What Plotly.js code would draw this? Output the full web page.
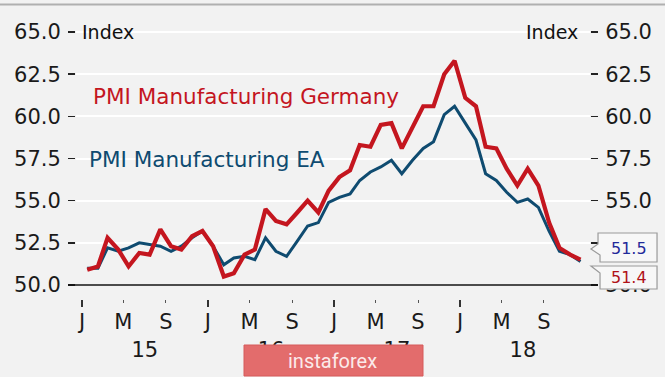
<!DOCTYPE html>
<html><head><meta charset="utf-8">
<script src="https://cdn.plot.ly/plotly-3.0.1.min.js"></script>
<style>html,body{margin:0;padding:0;background:#f2f2f2;}#chart{width:665px;height:377px;}</style>
</head><body><div id="chart"></div>
<script>
const months = [
'2015-01-16','2015-02-16','2015-03-16','2015-04-16','2015-05-16','2015-06-16','2015-07-16','2015-08-16','2015-09-16','2015-10-16','2015-11-16','2015-12-16',
'2016-01-16','2016-02-16','2016-03-16','2016-04-16','2016-05-16','2016-06-16','2016-07-16','2016-08-16','2016-09-16','2016-10-16','2016-11-16','2016-12-16',
'2017-01-16','2017-02-16','2017-03-16','2017-04-16','2017-05-16','2017-06-16','2017-07-16','2017-08-16','2017-09-16','2017-10-16','2017-11-16','2017-12-16',
'2018-01-16','2018-02-16','2018-03-16','2018-04-16','2018-05-16','2018-06-16','2018-07-16','2018-08-16','2018-09-16','2018-10-16','2018-11-16','2018-12-16'];
const pmiGermany = [
50.9,51.1,52.8,52.1,51.1,51.9,51.8,53.3,52.3,52.1,52.9,53.2,
52.3,50.5,50.7,51.8,52.1,54.5,53.8,53.6,54.3,55.0,54.3,55.6,
56.4,56.8,58.3,58.2,59.5,59.6,58.1,59.3,60.6,60.6,62.5,63.3,
61.1,60.6,58.2,58.1,56.9,55.9,56.9,55.9,53.7,52.2,51.8,51.5];
const pmiEA = [
51.0,51.0,52.2,52.0,52.2,52.5,52.4,52.3,52.0,52.3,52.8,53.2,
52.3,51.2,51.6,51.7,51.5,52.8,52.0,51.7,52.6,53.5,53.7,54.9,
55.2,55.4,56.2,56.7,57.0,57.4,56.6,57.4,58.1,58.5,60.1,60.6,
59.6,58.6,56.6,56.2,55.5,54.9,55.1,54.6,53.2,52.0,51.8,51.4];
const tickDates = ['2015-01-01','2015-05-01','2015-09-01','2016-01-01','2016-05-01','2016-09-01',
'2017-01-01','2017-05-01','2017-09-01','2018-01-01','2018-05-01','2018-09-01'];
const tickLabels = ['J','M','S','J','M','S','J','M','S','J','M','S'];
const yearTickDates = ['2015-01-01','2016-01-01','2017-01-01','2018-01-01'];
const yearDates = ['2015-07-02','2016-07-02','2017-07-02','2018-07-02'];
const yearLabels = ['15','16','17','18'];
const yTicks = [50,52.5,55,57.5,60,62.5,65];
const yLabels = ['50.0','52.5','55.0','57.5','60.0','62.5','65.0'];
const yLabelsRight = ['50.0','','55.0','57.5','60.0','62.5','65.0'];
const tagEA = '51.5', tagDE = '51.4';

const RED = '#c4161f', BLUE = '#0f4b70';
const FONT = 'DejaVu Sans';
const L=76, T=27, W=514, H=272;
const px = x => (x-L)/W, py = y => (T+H-y)/H;
const yr = [49.17, 65.3];
const xr = ['2014-12-14 12:00','2019-01-12 14:00'];

const traces = [
 {x: months, y: pmiEA, mode:'lines', line:{color:BLUE, width:3}, hoverinfo:'skip', showlegend:false},
 {x: months, y: pmiGermany, mode:'lines', line:{color:RED, width:4.2}, hoverinfo:'skip', showlegend:false},
 {x: months, y: pmiEA, xaxis:'x2', yaxis:'y2', mode:'lines', opacity:0, line:{width:0}, hoverinfo:'skip', showlegend:false},
 {x: months, y: pmiEA, xaxis:'x3', yaxis:'y', mode:'lines', opacity:0, line:{width:0}, hoverinfo:'skip', showlegend:false}
];

function tagPath(pts){ return 'M' + pts.map(p => px(p[0]).toFixed(4)+','+py(p[1]).toFixed(4)).join(' L') + ' Z'; }

const layout = {
 width:665, height:377,
 margin:{l:L, r:665-L-W, t:T, b:377-T-H},
 paper_bgcolor:'#f2f2f2', plot_bgcolor:'#f2f2f2',
 font:{family:FONT, color:'#1a1a1a'},
 xaxis:{type:'date', range:xr, tickmode:'array', tickvals:tickDates, ticktext:tickLabels,
   ticks:'outside', ticklen:3, tickwidth:1, tickcolor:'#555', showgrid:false, zeroline:false, showline:false,
   tickfont:{size:21, family:FONT, color:'#1a1a1a'}, ticklabelstandoff:1},
 xaxis2:{type:'date', range:xr, overlaying:'x', anchor:'y', side:'bottom', tickmode:'array', tickvals:yearTickDates,
   ticks:'outside', ticklen:7, tickwidth:1.5, tickcolor:'#333', showticklabels:false, showgrid:false, zeroline:false, showline:false},
 xaxis3:{type:'date', range:xr, overlaying:'x', anchor:'y', side:'bottom', tickmode:'array', tickvals:yearDates, ticktext:yearLabels,
   ticks:'', showgrid:false, zeroline:false, showline:false, tickfont:{size:21, family:FONT, color:'#1a1a1a'}, ticklabelstandoff:36},
 yaxis:{range:yr, tickmode:'array', tickvals:yTicks, ticktext:yLabels, ticks:'outside', ticklen:7, tickwidth:1.5, tickcolor:'#222',
   showgrid:true, gridcolor:'#ffffff', gridwidth:2, zeroline:false, showline:false,
   tickfont:{size:21, family:FONT, color:'#1a1a1a'}, ticklabelstandoff:3},
 yaxis2:{range:yr, overlaying:'y', side:'right', anchor:'x', tickmode:'array', tickvals:yTicks, ticktext:yLabelsRight, ticks:'outside', ticklen:7, tickwidth:1.5, tickcolor:'#222',
   showgrid:false, zeroline:false, showline:false, tickfont:{size:21, family:FONT, color:'#1a1a1a'}, ticklabelstandoff:3},
 shapes:[
  {type:'line', xref:'paper', yref:'paper', x0:px(0), x1:px(665), y0:py(4.5), y1:py(4.5), line:{color:'#b0b0b0', width:2}, layer:'above'},
  {type:'line', xref:'paper', yref:'paper', x0:px(68), x1:px(598), y0:py(285), y1:py(285), line:{color:'#111', width:1.6}, layer:'above'},
  {type:'path', xref:'paper', yref:'paper', path: tagPath([[598,233],[657,233],[657,262],[600,262],[600,255],[591,249],[598,244]]),
    fillcolor:'#f7f7f7', line:{color:'#9a9a9a', width:1.2}, layer:'above'},
  {type:'path', xref:'paper', yref:'paper', path: tagPath([[591,266],[657,266],[657,289],[600,289],[600,273]]),
    fillcolor:'#f7f7f7', line:{color:'#9a9a9a', width:1.2}, layer:'above'},
  {type:'rect', xref:'paper', yref:'paper', x0:px(244), x1:px(423), y0:py(345), y1:py(376), fillcolor:'#e36c6c', line:{color:'#d65a5a', width:1}, layer:'above'}
 ],
 annotations:[
  {text:'Index', xref:'paper', yref:'paper', x:px(80), y:py(32), xanchor:'left', yanchor:'middle', showarrow:false, font:{size:19, color:'#111', family:FONT}},
  {text:'Index', xref:'paper', yref:'paper', x:px(580), y:py(32), xanchor:'right', yanchor:'middle', showarrow:false, font:{size:19, color:'#111', family:FONT}},
  {text:'PMI Manufacturing Germany', xref:'paper', yref:'paper', x:px(91), y:py(96), xanchor:'left', yanchor:'middle', showarrow:false, font:{size:21.5, color:RED, family:FONT}},
  {text:'PMI Manufacturing EA', xref:'paper', yref:'paper', x:px(87), y:py(159), xanchor:'left', yanchor:'middle', showarrow:false, font:{size:21.5, color:BLUE, family:FONT}},
  {text:tagEA, xref:'paper', yref:'paper', x:px(629), y:py(248), xanchor:'center', yanchor:'middle', showarrow:false, font:{size:16, color:'#1f2a9a', family:FONT}},
  {text:tagDE, xref:'paper', yref:'paper', x:px(629), y:py(277), xanchor:'center', yanchor:'middle', showarrow:false, font:{size:16, color:'#b01218', family:FONT}},
  {text:'instaforex', xref:'paper', yref:'paper', x:px(332), y:py(361), xanchor:'center', yanchor:'middle', showarrow:false, font:{size:20, color:'#fbeaea', family:'Roboto'}}
 ]
};
Plotly.newPlot('chart', traces, layout, {displayModeBar:false, staticPlot:true});
</script></body></html>
